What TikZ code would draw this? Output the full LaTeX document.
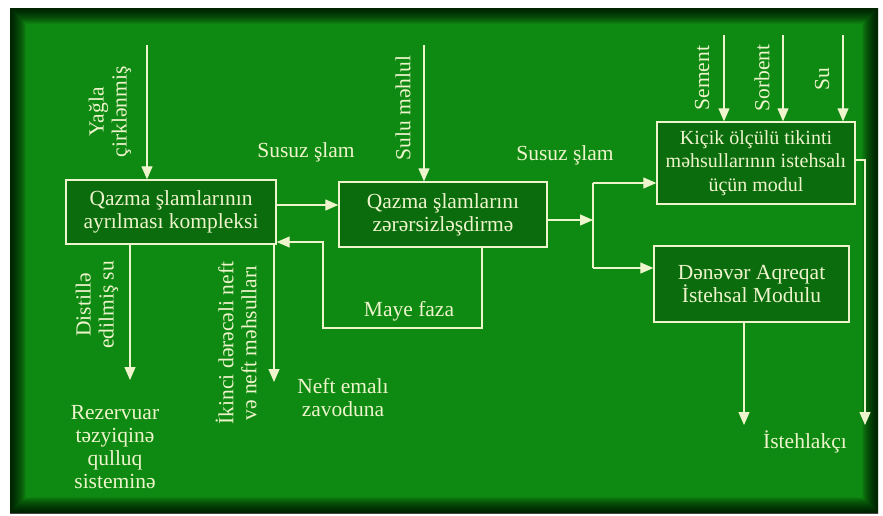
\documentclass[tikz,border=0pt]{standalone}
\usepackage{fontspec}
\setmainfont{Liberation Serif}
\usetikzlibrary{arrows.meta}
\definecolor{board}{HTML}{0E8A12}
\definecolor{boxg}{HTML}{0A6C0D}
\definecolor{chalk}{HTML}{EEF4CC}
\begin{document}
\begin{tikzpicture}[x=1pt,y=-1pt,
  txt/.style={text=chalk,font=\fontsize{21.5}{23}\selectfont,align=center,inner sep=0pt},
  box/.style={txt,draw=chalk,fill=boxg,line width=1.4pt},
  arr/.style={draw=chalk,line width=1.3pt,-{Triangle[length=13pt,width=11pt]}},
  ln/.style={draw=chalk,line width=1.3pt},
  rlbl/.style={txt,rotate=90}]
\useasboundingbox (0,0) rectangle (883,515);
\fill[white] (0,0) rectangle (883,515);
\fill[board] (10,8) rectangle (878,513);
\begin{scope}
\clip (10,8) rectangle (878,513);
\foreach \i in {1,...,16}{
  \draw[black,opacity=0.075,line width=2*\i pt] (10,8) rectangle (878,513);
}
\end{scope}
% boxes
\node[box,minimum width=210pt,minimum height=64pt] (A) at (171,212) {Qazma şlamlarının\\ayrılması kompleksi};
\node[box,minimum width=208pt,minimum height=65pt] (B) at (443,214.5) {Qazma şlamlarını\\zərərsizləşdirmə};
\node[box,minimum width=198pt,minimum height=82pt,font=\fontsize{20}{23.5}\selectfont] (C) at (756,163) {Kiçik ölçülü tikinti\\məhsullarının istehsalı\\üçün modul};
\node[box,minimum width=195pt,minimum height=76pt] (D) at (751.5,284) {Dənəvər Aqreqat\\İstehsal Modulu};
% labels
\node[rlbl] (Ly) at (110,112) {Yağla\\çirklənmiş};
\node[rlbl] (Ls) at (403,108) {Sulu məhlul};
\node[rlbl] (Lse) at (702,78) {Sement};
\node[rlbl] (Lso) at (762,78) {Sorbent};
\node[rlbl] (Lsu) at (822,79) {Su};
\node[txt] (S1) at (306,152) {Susuz şlam};
\node[txt] (S2) at (565,155) {Susuz şlam};
\node[txt] (M) at (409,311) {Maye faza};
\node[rlbl] (Ld) at (97,305) {Distillə\\edilmiş su};
\node[rlbl] (Li) at (236,343) {İkinci dərəcəli neft\\və neft məhsulları};
\node[txt] (R) at (115,447) {Rezervuar\\təzyiqinə\\qulluq\\sisteminə};
\node[txt] (N) at (343,398) {Neft emalı\\zavoduna};
\node[txt] (I) at (805,442) {İstehlakçı};
% connectors
\coordinate (yin) at (147,45);
\draw[arr] (yin) -- (yin |- A.north);
\coordinate (sin) at (424,45);
\draw[arr] (sin) -- (sin |- B.north);
\draw[arr] ([yshift=7pt]A.east) -- ([yshift=7pt]A.east -| B.west);
\coordinate (m1) at (482,328);
\coordinate (m2) at (323,328);
\coordinate (m3) at (323,242);
\draw[arr] (m1 |- B.south) -- (m1) -- (m2) -- (m3) -- (m3 -| A.east);
\coordinate (J) at (593,220);
\coordinate (J1) at (593,183);
\coordinate (J2) at (593,268);
\draw[arr] (J -| B.east) -- (J);
\draw[ln] (J1) -- (J2);
\draw[arr] (J1) -- (J1 -| C.west);
\draw[arr] (J2) -- (J2 -| D.west);
\coordinate (se) at (724,35);
\coordinate (so) at (783,35);
\coordinate (su) at (843,35);
\draw[arr] (se) -- (se |- C.north);
\draw[arr] (so) -- (so |- C.north);
\draw[arr] (su) -- (su |- C.north);
\coordinate (c1) at (865,160);
\coordinate (c2) at (865,425);
\draw[arr] (c1 -| C.east) -- (c1) -- (c2);
\coordinate (d1) at (744,425);
\draw[arr] (d1 |- D.south) -- (d1);
\coordinate (dd) at (130,380);
\draw[arr] (dd |- A.south) -- (dd);
\coordinate (ik) at (274,382);
\draw[arr] (ik |- A.south) -- (ik);
\end{tikzpicture}
\end{document}
